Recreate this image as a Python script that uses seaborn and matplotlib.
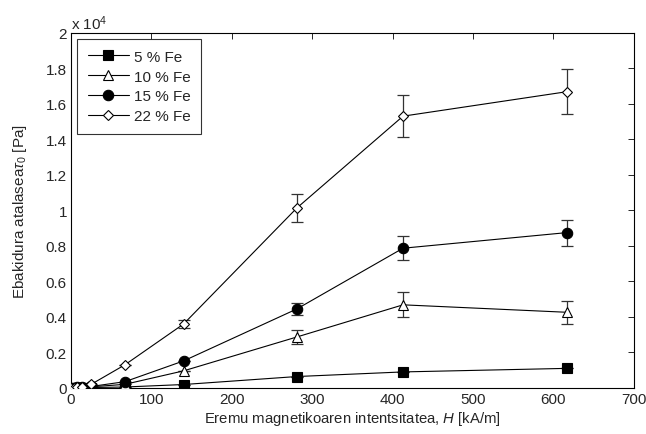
import matplotlib
matplotlib.use("Agg")
import numpy as np
import pandas as pd
import matplotlib.pyplot as plt
import seaborn as sns

# field strength H [kA/m]
H = [0, 4, 8, 13, 25, 67, 140, 281, 413, 617]

# yield stress [Pa]
fe5 = [0, 5, 10, 15, 20, 50, 190, 640, 900, 1100]
fe10 = [0, 10, 20, 30, 60, 200, 960, 2870, 4680, 4260]
fe15 = [0, 10, 25, 40, 80, 350, 1520, 4450, 7870, 8750]
fe22 = [0, 15, 30, 60, 200, 1300, 3600, 10140, 15310, 16690]

err5 = [0, 0, 0, 0, 0, 0, 0, 0, 0, 0]
err10 = [0, 0, 0, 0, 0, 0, 0, 400, 700, 640]
err15 = [0, 0, 0, 0, 0, 0, 0, 350, 670, 730]
err22 = [0, 0, 0, 0, 0, 0, 250, 780, 1200, 1270]

labels = ["5 % Fe", "10 % Fe", "15 % Fe", "22 % Fe"]

sns.set_style("white")
plt.rcParams["font.family"] = ["Liberation Sans", "DejaVu Sans"]
plt.rcParams["mathtext.fontset"] = "custom"
plt.rcParams["mathtext.it"] = "Liberation Sans:italic"
plt.rcParams["mathtext.rm"] = "Liberation Sans"

rows = []
for lab, ys in zip(labels, [fe5, fe10, fe15, fe22]):
    for h, v in zip(H, ys):
        rows.append({"H": h, "tau": v, "serie": lab})
df = pd.DataFrame(rows)

fig = plt.figure(figsize=(6.46, 4.35), dpi=100)
ax = fig.add_axes([0.11, 0.106, 0.871, 0.816])

markers = {"5 % Fe": "s", "10 % Fe": "^", "15 % Fe": "o", "22 % Fe": "D"}
mfc = {"5 % Fe": "black", "10 % Fe": "white", "15 % Fe": "black", "22 % Fe": "white"}
msize = {"5 % Fe": 6.5, "10 % Fe": 7.5, "15 % Fe": 7.5, "22 % Fe": 5.5}

for lab, ys, es in zip(labels, [fe5, fe10, fe15, fe22], [err5, err10, err15, err22]):
    sub = df[df["serie"] == lab]
    sns.lineplot(data=sub, x="H", y="tau", ax=ax, color="black", lw=0.8,
                 marker=markers[lab], markersize=msize[lab],
                 markerfacecolor=mfc[lab], markeredgecolor="black",
                 markeredgewidth=0.8, label=lab, zorder=3)
    ax.errorbar(H, ys, yerr=es, fmt="none", ecolor="#333333", elinewidth=0.9,
                capsize=4, capthick=0.9, zorder=2)

ax.set_xlim(0, 700)
ax.set_ylim(0, 20000)
ax.set_xticks(np.arange(0, 701, 100))
ax.set_yticks(np.arange(0, 20001, 2000))
ax.set_yticklabels(["0", "0.2", "0.4", "0.6", "0.8", "1", "1.2", "1.4", "1.6", "1.8", "2"])
ax.text(0.0, 1.004, r"x 10$^{4}$", transform=ax.transAxes, fontsize=11, va="bottom", ha="left")

ax.tick_params(direction="in", top=True, right=True, length=4, width=0.7, labelsize=11, pad=3)
for s in ax.spines.values():
    s.set_linewidth(0.8)
    s.set_color("black")

ax.set_xlabel(r"Eremu magnetikoaren intentsitatea, $\mathit{H}$ [kA/m]", fontsize=10.7, labelpad=2)
ax.set_ylabel(r"Ebakidura atalasea$\tau_0$ [Pa]", fontsize=11, labelpad=12)

leg = ax.legend(loc="upper left", fontsize=11, frameon=True, fancybox=False,
                edgecolor="black", handlelength=2.7, borderpad=0.7,
                labelspacing=0.38, handletextpad=0.3, borderaxespad=0.4)
leg.get_frame().set_linewidth(0.8)

fig.savefig("out.png", dpi=100)
